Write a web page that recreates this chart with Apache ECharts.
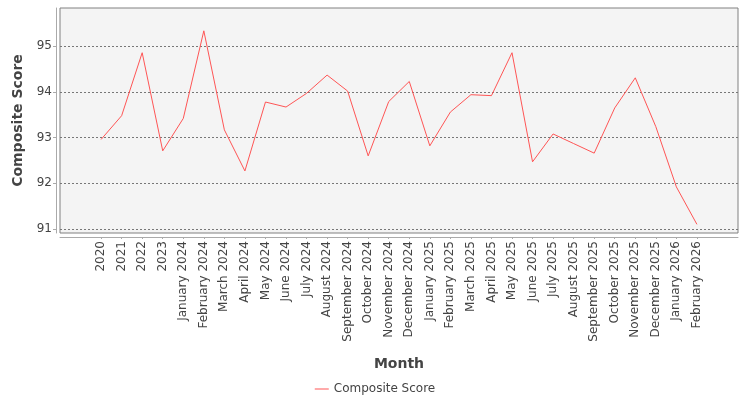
<!DOCTYPE html>
<html>
<head>
<meta charset="utf-8">
<script src="https://cdn.jsdelivr.net/npm/echarts@6/dist/echarts.min.js"></script>
<style>
  html, body { margin: 0; padding: 0; background: #fff; }
  #chart { width: 750px; height: 400px; }
</style>
</head>
<body>
<div id="chart"></div>
<script>
// months on the category axis
var months = ['2020', '2021', '2022', '2023',
  'January 2024', 'February 2024', 'March 2024', 'April 2024', 'May 2024', 'June 2024',
  'July 2024', 'August 2024', 'September 2024', 'October 2024', 'November 2024', 'December 2024',
  'January 2025', 'February 2025', 'March 2025', 'April 2025', 'May 2025', 'June 2025',
  'July 2025', 'August 2025', 'September 2025', 'October 2025', 'November 2025', 'December 2025',
  'January 2026', 'February 2026'];

var composite_score = [92.96, 93.48, 94.86, 92.71,
  93.42, 95.34, 93.17, 92.27, 93.78, 93.67,
  93.97, 94.37, 94.02, 92.60, 93.79, 94.23,
  92.82, 93.56, 93.94, 93.92, 94.86, 92.47,
  93.08, 92.87, 92.66, 93.65, 94.31, 93.24,
  91.92, 91.10];

var y_min = 90.91;
var y_max = 95.84;

// two empty slots each side, like the margins of the original plot
var cat_data = ['', ''].concat(months, ['', '']);
var line_data = ['-', '-'].concat(composite_score, ['-', '-']);
var n = cat_data.length;

var chart = echarts.init(document.getElementById('chart'));
var font = 'DejaVu Sans';

option = {
  animation: false,
  textStyle: { fontFamily: font },
  grid: {
    left: 60,
    right: 12,
    top: 8,
    bottom: 167,
    show: true,
    backgroundColor: '#f4f4f4',
    borderColor: '#808080',
    borderWidth: 1
  },
  legend: {
    data: [{ name: 'Composite Score', icon: 'rect' }],
    top: 378,
    left: 'center',
    itemWidth: 14,
    itemHeight: 1,
    textStyle: { fontFamily: font, fontSize: 12, color: '#444' }
  },
  xAxis: {
    type: 'category',
    boundaryGap: false,
    data: cat_data,
    offset: 4,
    name: 'Month',
    nameLocation: 'middle',
    nameGap: 120,
    nameTextStyle: { fontFamily: font, fontSize: 14, fontWeight: 'bold', color: '#444' },
    axisLine: { lineStyle: { color: '#aaa' } },
    axisTick: {
      length: 2,
      lineStyle: { color: '#aaa' },
      interval: function (i) { return i >= 2 && i < n - 2; }
    },
    axisLabel: {
      rotate: 90,
      interval: 0,
      margin: 4,
      fontFamily: font,
      fontSize: 12,
      color: '#444'
    },
    splitLine: { show: false }
  },
  yAxis: {
    type: 'value',
    min: y_min,
    max: y_max,
    offset: 4,
    name: 'Composite Score',
    nameLocation: 'middle',
    nameGap: 29,
    nameTextStyle: { fontFamily: font, fontSize: 14, fontWeight: 'bold', color: '#444' },
    axisLine: { show: true, lineStyle: { color: '#aaa' } },
    axisTick: { show: true, length: 3, lineStyle: { color: '#aaa' } },
    axisLabel: {
      showMinLabel: false,
      showMaxLabel: false,
      margin: 4,
      fontFamily: font,
      fontSize: 12,
      color: '#444'
    },
    splitLine: {
      show: true,
      showMinLine: false,
      showMaxLine: false,
      lineStyle: { color: '#777', type: [2, 2], width: 1 }
    }
  },
  series: [
    {
      name: 'Composite Score',
      type: 'line',
      data: line_data,
      showSymbol: false,
      symbol: 'none',
      lineStyle: { color: '#ff5555', width: 1 },
      itemStyle: { color: '#ff5555' }
    }
  ]
};
chart.setOption(option);
</script>
</body>
</html>
